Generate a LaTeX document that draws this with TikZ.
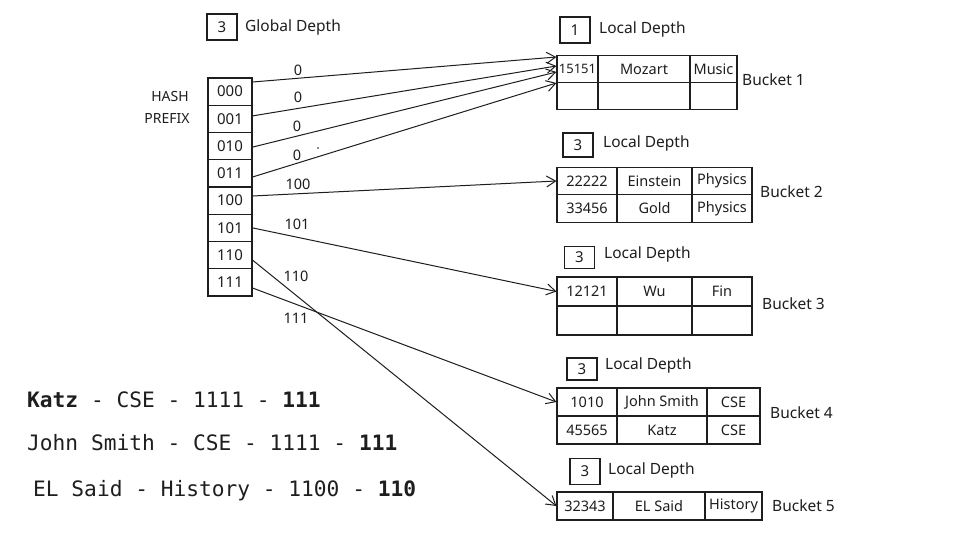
\documentclass[tikz,border=0pt]{standalone}
\usepackage{fontspec}
\setmainfont{Noto Sans}
\newfontfamily\monofont{DejaVu Sans Mono}
\usetikzlibrary{arrows.meta,calc}
\definecolor{ink}{HTML}{1E1E1E}
\begin{document}
\begin{tikzpicture}[x=1pt,y=-1pt,
  every node/.style={text=ink},
  cell/.style={draw=ink, line width=1.1pt, inner sep=0pt, font=\fontsize{14.5}{16}\selectfont},
  hcell/.style={cell, minimum width=44pt, minimum height=27.25pt, font=\fontsize{15}{17}\selectfont},
  depthbox/.style={draw=ink, line width=1.1pt, inner sep=0pt, minimum width=30pt, font=\fontsize{15}{17}\selectfont},
  caption/.style={anchor=west, inner sep=0pt, font=\fontsize{15.5}{18}\selectfont},
  lbl/.style={inner sep=0pt, font=\fontsize{14.5}{16}\selectfont},
  conn/.style={draw=ink, line width=1pt, -{Straight Barb[length=9pt,width=11pt,line width=1pt]}},
  mono/.style={anchor=west, inner sep=0pt, font=\monofont\fontsize{21.2}{24}\selectfont}
]
\useasboundingbox[fill=white] (0,0) rectangle (960,540);

% global depth
\node[depthbox, minimum height=26pt] (gd) at (222,27) {3};
\node[caption] (gdt) at (245,27) {Global Depth};

% hash prefix
\node[lbl, font=\fontsize{14}{16}\selectfont] (hash) at (170,97) {HASH};
\node[lbl, font=\fontsize{14}{16}\selectfont] (prefix) at (167,119) {PREFIX};
\node[hcell] (h000) at (230,91.6) {000};
\node[hcell] (h001) at (230,118.9) {001};
\node[hcell] (h010) at (230,146.1) {010};
\node[hcell] (h011) at (230,173.4) {011};
\node[hcell] (h100) at (230,200.6) {100};
\node[hcell] (h101) at (230,227.9) {101};
\node[hcell] (h110) at (230,255.1) {110};
\node[hcell] (h111) at (230,282.4) {111};

% bucket 1
\node[depthbox, minimum height=26pt] (d1) at (575,30) {1};
\node[caption] (d1t) at (599,29) {Local Depth};
\node[cell, minimum width=41pt, minimum height=27pt, font=\fontsize{13}{15}\selectfont] (c11) at (577.5,69) {15151};
\node[cell, minimum width=92pt, minimum height=27pt] (c12) at (644,69) {Mozart};
\node[cell, minimum width=47pt, minimum height=27pt] (c13) at (713.5,69) {Music};
\node[cell, minimum width=41pt, minimum height=27pt] (c14) at (577.5,96) {};
\node[cell, minimum width=92pt, minimum height=27pt] (c15) at (644,96) {};
\node[cell, minimum width=47pt, minimum height=27pt] (c16) at (713.5,96) {};
\node[caption] (b1) at (742,80) {Bucket 1};

% bucket 2
\node[depthbox, minimum height=24pt] (d2) at (578,145) {3};
\node[caption] (d2t) at (603,143) {Local Depth};
\node[cell, minimum width=60pt, minimum height=27.5pt] (c21) at (587,181) {22222};
\node[cell, minimum width=75pt, minimum height=27.5pt] (c22) at (654.5,181) {Einstein};
\node[cell, minimum width=60pt, minimum height=27.5pt] (c23) at (722,181) {Physics};
\node[cell, minimum width=60pt, minimum height=27.5pt] (c24) at (587,208.5) {33456};
\node[cell, minimum width=75pt, minimum height=27.5pt] (c25) at (654.5,208.5) {Gold};
\node[cell, minimum width=60pt, minimum height=27.5pt] (c26) at (722,208.5) {Physics};
\node[caption] (b2) at (760,192) {Bucket 2};

% bucket 3
\node[depthbox, minimum height=22pt] (d3) at (579.5,257.5) {3};
\node[caption] (d3t) at (604,254) {Local Depth};
\node[cell, minimum width=60pt, minimum height=29pt] (c31) at (587,291.5) {12121};
\node[cell, minimum width=75pt, minimum height=29pt] (c32) at (654.5,291.5) {Wu};
\node[cell, minimum width=60pt, minimum height=29pt] (c33) at (722,291.5) {Fin};
\node[cell, minimum width=60pt, minimum height=29pt] (c34) at (587,320.5) {};
\node[cell, minimum width=75pt, minimum height=29pt] (c35) at (654.5,320.5) {};
\node[cell, minimum width=60pt, minimum height=29pt] (c36) at (722,320.5) {};
\node[caption] (b3) at (762,304) {Bucket 3};

% bucket 4
\node[depthbox, minimum height=22pt] (d4) at (582,369) {3};
\node[caption] (d4t) at (605,365) {Local Depth};
\node[cell, minimum width=60pt, minimum height=28pt] (c41) at (587,402) {1010};
\node[cell, minimum width=90pt, minimum height=28pt] (c42) at (662,402) {John Smith};
\node[cell, minimum width=53pt, minimum height=28pt] (c43) at (733.5,402) {CSE};
\node[cell, minimum width=60pt, minimum height=28pt] (c44) at (587,430) {45565};
\node[cell, minimum width=90pt, minimum height=28pt] (c45) at (662,430) {Katz};
\node[cell, minimum width=53pt, minimum height=28pt] (c46) at (733.5,430) {CSE};
\node[caption] (b4) at (770,413) {Bucket 4};

% bucket 5
\node[depthbox, minimum height=26pt] (d5) at (585,471.5) {3};
\node[caption] (d5t) at (608,470) {Local Depth};
\node[cell, minimum width=56pt, minimum height=28pt] (c51) at (585,506) {32343};
\node[cell, minimum width=92pt, minimum height=28pt] (c52) at (659,506) {EL Said};
\node[cell, minimum width=57pt, minimum height=28pt] (c53) at (733.5,506) {History};
\node[caption] (b5) at (772,506) {Bucket 5};

% connectors
\draw[conn] ($(h000.east)+(0,-9.6)$) -- ($(c11.west)+(0,-12)$);
\draw[conn] ($(h001.east)+(0,-3)$) -- ($(c11.west)+(0,-3)$);
\draw[conn] ($(h010.east)+(0,1)$) -- ($(c11.west)+(0,3)$);
\draw[conn] ($(h011.east)+(0,3.6)$) -- ($(c11.west)+(0,14)$);
\draw[conn] ($(h100.east)+(0,-4.6)$) -- (c21.west);
\draw[conn] (h101.east) -- (c31.west);
\draw[conn] ($(h110.east)+(0,5)$) -- (c51.west);
\draw[conn] ($(h111.east)+(0,5.6)$) -- (c41.west);

% connector labels
\node[lbl] (l0a) at (298,70) {0};
\node[lbl] (l0b) at (298,97) {0};
\node[lbl] (l0c) at (297,126) {0};
\node[lbl] (l0d) at (297,155) {0};
\fill[ink] (318,148) circle (0.8);
\node[lbl] (l100) at (298,184) {100};
\node[lbl] (l101) at (297,224) {101};
\node[lbl] (l110) at (296,276) {110};
\node[lbl] (l111) at (296,318) {111};

% records
\node[mono] (r1) at (27,400) {\textbf{Katz} - CSE - 1111 - \textbf{111}};
\node[mono] (r2) at (27,443) {John Smith - CSE - 1111 - \textbf{111}};
\node[mono] (r3) at (33,491) {EL Said - History - 1100 - \textbf{110}};
\end{tikzpicture}
\end{document}
